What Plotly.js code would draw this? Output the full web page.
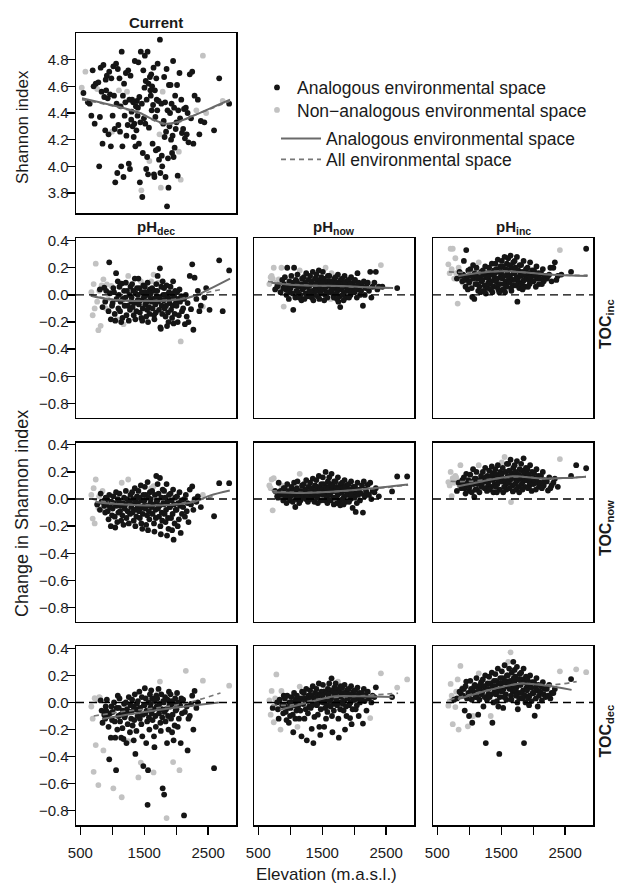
<!DOCTYPE html>
<html><head><meta charset="utf-8">
<script src="https://cdn.plot.ly/plotly-3.0.1.min.js"></script>
<style>html,body{margin:0;padding:0;background:#fff}</style>
</head><body>
<div id="chart" style="width:617px;height:885px"></div>
<script>
// ---------- DATA ----------
// site elevations (m a.s.l.), grouped in 100 m bands
const elevation = [
548,522,579,
618,646,672,693,
741,708,782,724,795,763,
861,818,897,833,874,806,889,847,
952,915,985,904,964,928,996,941,977,
1059,1016,1086,1027,1067,1005,1095,1038,1078,1046,
1147,1112,1184,1103,1166,1130,1193,1121,1158,1139,1175,
1249,1212,1285,1230,1267,1204,1296,1241,1276,1221,1258,
1352,1310,1386,1327,1369,1302,1395,1344,1318,1377,1335,1361,
1446,1408,1485,1423,1462,1401,1494,1439,1416,1477,1431,1454,1469,
1552,1509,1588,1523,1566,1503,1596,1537,1516,1573,1545,1580,1530,1559,
1645,1609,1688,1623,1666,1602,1695,1638,1616,1674,1630,1681,1652,1659,
1745,1709,1788,1723,1767,1703,1796,1738,1716,1774,1731,1781,1752,1759,
1849,1811,1886,1826,1864,1804,1894,1841,1818,1871,1833,1879,1856,
1951,1911,1983,1927,1967,1903,1992,1943,1919,1975,1935,1959,
2051,2013,2079,2032,2060,2004,2090,2041,2023,2070,
2150,2122,2178,2108,2164,2136,2192,
2250,2212,2287,2231,2268,
2338,2315,2385,2362,
2417,2440,2468,
2592,2521,
2672,2608,
2727,2765,
2828,2851];

// Current Shannon index
const shannonCurrent = [
4.55,4.59,4.71,
4.48,4.47,4.38,4.72,
4.62,4.60,4.63,4.32,4.00,4.58,
4.76,4.74,4.65,4.56,4.52,4.37,4.27,4.17,
4.71,4.68,4.66,4.57,4.54,4.51,4.26,4.24,4.15,
4.77,4.75,4.73,4.53,4.47,4.38,4.31,4.28,3.95,3.88,
4.86,4.66,4.62,4.57,4.53,4.45,4.38,4.26,4.15,4.00,3.92,
4.72,4.70,4.68,4.56,4.50,4.48,4.35,4.31,3.98,4.23,4.02,
4.79,4.50,4.49,4.48,4.45,4.41,4.38,4.32,4.30,4.27,4.22,4.15,
4.86,4.78,4.72,4.52,4.47,4.44,4.36,4.33,4.17,4.10,3.88,3.82,3.77,
4.86,4.83,4.67,4.64,4.62,4.59,4.57,4.50,4.32,4.29,4.07,4.04,3.98,3.94,
4.74,4.69,4.66,4.60,4.57,4.53,4.50,4.46,4.42,4.37,4.17,4.12,3.94,3.92,
4.95,4.77,4.56,4.49,4.47,4.42,4.32,4.24,4.13,4.08,4.05,4.00,3.95,3.84,
4.73,4.67,4.61,4.48,4.42,4.34,4.30,4.26,4.22,4.06,3.92,3.84,3.70,
4.79,4.61,4.53,4.47,4.44,4.40,4.28,4.23,4.20,4.14,4.10,4.07,
4.70,4.61,4.50,4.42,4.36,4.33,4.25,4.11,3.93,3.90,
4.44,4.43,4.40,4.28,4.24,4.21,4.18,
4.71,4.69,4.53,4.36,4.17,
4.50,4.42,4.34,4.24,
4.83,4.33,4.40,
4.27,null,
4.66,null,
4.49,null,
4.47,null];

// Change in Shannon index: pH_dec / TOC_inc
const change_pHdec_TOCinc = [
null,null,null,
null,null,0.02,-0.15,
0.23,0.08,-0.26,-0.10,0.03,-0.05,
0.115,-0.228,-0.098,0.07,0.054,0.04,-0.05,-0.09,
0.24,0.078,0.066,0.03,0.012,-0.03,-0.08,-0.12,-0.18,
0.16,0.05,0.1,0.02,-0.03,-0.06,-0.10,-0.14,-0.18,-0.19,
0.083,0.06,0.03,0.0,-0.03,-0.05,-0.08,-0.12,-0.17,-0.2,-0.216,
0.14,0.09,0.06,0.03,0.0,-0.02,-0.05,-0.08,-0.11,-0.15,-0.19,
0.12,0.08,0.05,0.03,0.01,-0.02,-0.04,-0.06,-0.09,-0.12,-0.15,-0.18,
0.10,0.12,0.07,0.05,0.02,0.0,-0.02,-0.04,-0.07,-0.1,-0.13,-0.17,-0.19,
0.09,0.06,0.04,0.02,0.0,-0.01,-0.03,-0.05,-0.07,-0.09,-0.11,-0.14,-0.16,-0.2,
0.15,0.10,0.08,0.05,0.03,0.01,-0.01,-0.03,-0.05,-0.07,-0.1,-0.13,-0.15,-0.18,
0.196,0.14,0.10,0.09,0.06,0.03,0.0,-0.02,-0.05,-0.08,-0.11,-0.14,-0.24,-0.25,
0.07,0.05,0.02,0.0,-0.02,-0.04,-0.06,-0.08,-0.10,-0.13,-0.16,-0.2,-0.23,
0.1,0.06,0.03,0.01,-0.01,-0.03,-0.06,-0.08,-0.11,-0.14,-0.17,-0.21,
0.04,0.02,-0.01,-0.03,-0.05,-0.08,-0.12,-0.15,-0.2,-0.343,
0.0,-0.03,-0.06,-0.1,-0.16,-0.216,-0.2,
0.225,0.14,0.127,-0.105,-0.257,
0.03,-0.03,-0.08,-0.12,
-0.086,-0.02,0.05,
null,-0.11,
0.255,null,
-0.12,null,
0.18,null];

// pH_now / TOC_inc
const change_pHnow_TOCinc = [
null,null,null,
null,null,0.08,0.13,
0.2,0.14,0.09,0.12,0.06,0.04,
0.2,0.115,-0.086,0.09,0.11,0.07,0.05,0.02,
0.2,0.13,0.10,0.08,0.06,0.04,0.02,0.0,-0.03,
0.2,0.14,0.11,0.09,0.07,0.05,0.03,0.01,-0.02,-0.11,
0.18,0.15,0.12,0.1,0.08,0.06,0.04,0.02,0.0,-0.02,-0.04,
0.16,0.13,0.11,0.09,0.07,0.05,0.03,0.01,-0.01,-0.03,0.06,
0.17,0.14,0.12,0.1,0.08,0.07,0.05,0.03,0.02,0.0,-0.02,-0.04,
0.18,0.15,0.13,0.11,0.09,0.08,0.06,0.04,0.03,0.01,-0.01,-0.03,0.05,
0.2,0.17,0.14,0.12,0.1,0.09,0.07,0.05,0.04,0.02,0.0,-0.02,-0.04,0.06,
0.16,0.14,0.12,0.1,0.08,0.07,0.05,0.03,0.02,0.0,-0.03,-0.02,0.04,0.09,
0.15,0.13,0.11,0.09,0.08,0.06,0.04,0.03,0.01,-0.01,-0.03,-0.09,-0.05,0.05,
0.14,0.12,0.1,0.08,0.06,0.05,0.03,0.02,0.0,-0.02,-0.04,0.07,0.09,
0.13,0.11,0.09,0.07,0.06,0.04,0.02,0.0,-0.02,0.05,0.08,0.03,
0.16,0.11,0.08,0.06,0.04,0.02,0.0,-0.02,0.05,0.09,
0.1,0.07,0.05,0.03,0.0,-0.08,0.06,
0.17,0.09,0.06,0.03,-0.02,
0.17,0.09,0.06,0.04,
0.22,0.06,null,
null,null,
0.05,null,
null,null,
null,null];

// pH_inc / TOC_inc
const change_pHinc_TOCinc = [
null,null,null,
null,null,0.225,0.16,
0.34,0.34,0.27,0.19,0.16,0.12,
0.16,-0.064,0.09,0.2,0.14,0.12,0.1,0.17,
0.33,0.25,0.18,0.15,0.13,0.11,0.09,0.06,0.04,
0.22,0.19,0.16,0.14,0.12,0.1,0.08,0.05,-0.03,-0.015,
0.24,0.2,0.17,0.15,0.13,0.12,0.1,0.08,0.06,0.03,0.02,
0.21,0.18,0.16,0.15,0.13,0.11,0.09,0.07,0.05,0.03,0.01,
0.23,0.2,0.18,0.16,0.15,0.13,0.12,0.1,0.08,0.06,0.04,0.02,
0.26,0.23,0.21,0.19,0.17,0.16,0.14,0.12,0.1,0.08,0.06,0.04,0.02,
0.28,0.25,0.23,0.21,0.19,0.17,0.16,0.14,0.12,0.1,0.08,0.06,0.04,0.02,
0.29,0.27,0.24,0.22,0.2,0.18,0.16,0.14,0.13,0.11,0.09,0.07,0.05,0.03,
0.28,0.25,0.22,0.2,0.18,0.16,0.15,0.13,0.11,0.09,0.07,0.05,-0.05,0.12,
0.25,0.22,0.19,0.17,0.15,0.14,0.12,0.1,0.08,0.06,0.04,0.16,0.11,
0.24,0.2,0.18,0.16,0.14,0.12,0.1,0.08,0.06,0.15,0.11,0.13,
0.21,0.18,0.16,0.14,0.12,0.1,0.08,0.06,0.15,0.13,
0.19,0.16,0.14,0.12,0.1,0.08,0.13,
0.15,0.12,0.1,0.14,0.2,
0.24,0.2,0.14,0.11,
0.33,0.15,null,
0.17,null,
null,null,
null,null,
0.34,null];

// pH_dec / TOC_now
const change_pHdec_TOCnow = [
null,null,null,
null,null,0.03,-0.144,
0.144,0.08,-0.066,-0.18,0.02,-0.04,
-0.07,0.04,0.01,-0.02,-0.05,-0.08,-0.1,0.06,
0.03,0.0,-0.02,-0.04,-0.06,-0.09,-0.12,-0.15,-0.2,
0.05,0.02,0.0,-0.03,-0.05,-0.07,-0.1,-0.13,-0.17,-0.21,
0.12,0.04,0.01,-0.01,-0.03,-0.05,-0.07,-0.09,-0.12,-0.16,-0.19,
0.144,0.06,0.03,0.0,-0.02,-0.04,-0.06,-0.09,-0.11,-0.14,-0.18,
0.08,0.05,0.02,0.0,-0.02,-0.04,-0.06,-0.08,-0.1,-0.13,-0.16,-0.2,
0.1,0.06,0.03,0.01,-0.01,-0.03,-0.05,-0.07,-0.09,-0.11,-0.14,-0.18,-0.22,
0.125,0.09,0.05,0.03,0.01,-0.01,-0.03,-0.05,-0.07,-0.09,-0.12,-0.15,-0.19,-0.23,
0.095,0.08,0.17,0.06,0.03,0.0,-0.02,-0.04,-0.06,-0.08,-0.11,-0.14,-0.18,-0.24,
0.155,0.11,0.07,0.04,0.01,-0.01,-0.03,-0.05,-0.07,-0.1,-0.13,-0.16,-0.2,-0.26,
0.11,0.06,0.03,0.01,-0.02,-0.04,-0.06,-0.08,-0.11,-0.14,-0.17,-0.22,-0.27,
0.07,0.04,0.01,-0.01,-0.04,-0.06,-0.08,-0.11,-0.14,-0.18,-0.23,-0.3,
0.05,0.02,-0.01,-0.03,-0.05,-0.08,-0.11,-0.15,-0.2,-0.25,
0.03,0.0,-0.03,-0.06,-0.09,-0.13,-0.17,
0.093,0.07,0.0,-0.04,-0.08,
0.02,-0.02,-0.06,null,
0.03,null,null,
-0.127,null,
0.117,null,
null,null,
0.117,null];

// pH_now / TOC_now
const change_pHnow_TOCnow = [
null,null,null,
null,null,0.1,0.08,
0.154,0.144,0.046,-0.083,0.02,0.06,
0.1,0.12,0.08,0.05,0.03,0.01,-0.01,0.06,
0.11,0.08,0.06,0.04,0.03,0.01,-0.01,-0.03,0.05,
0.12,0.09,0.07,0.05,0.03,0.02,0.0,-0.02,-0.059,0.06,
0.186,0.13,0.1,0.08,0.06,0.04,0.02,0.01,-0.01,-0.03,0.05,
0.14,0.11,0.09,0.07,0.05,0.04,0.02,0.0,-0.02,0.06,0.03,
0.15,0.12,0.1,0.08,0.06,0.05,0.03,0.02,0.0,-0.02,0.07,0.04,
0.17,0.14,0.11,0.09,0.07,0.06,0.04,0.03,0.01,-0.01,-0.03,0.05,0.08,
0.2,0.16,0.13,0.11,0.09,0.07,0.06,0.04,0.03,0.01,-0.01,-0.03,0.05,0.08,
0.186,0.16,0.13,0.11,0.09,0.08,0.06,0.05,0.03,0.01,-0.01,-0.04,0.07,0.1,
0.16,0.13,0.11,0.09,0.08,0.06,0.05,0.03,0.01,-0.01,-0.03,-0.046,0.07,0.04,
0.14,0.12,0.1,0.08,0.06,0.05,0.03,0.02,0.0,-0.02,-0.04,0.07,0.09,
0.13,0.11,0.09,0.07,0.05,0.04,0.02,0.0,-0.02,-0.066,0.06,0.03,
0.12,0.09,0.07,0.05,0.03,0.01,-0.01,-0.03,-0.095,0.06,
0.13,0.1,0.07,0.04,0.02,-0.1,0.05,
0.12,0.105,0.06,0.03,0.0,
0.08,0.05,0.02,null,
null,null,null,
0.056,null,
0.166,null,
null,null,
0.166,null];

// pH_inc / TOC_now
const change_pHinc_TOCnow = [
null,null,null,
null,null,0.125,0.1,
0.154,0.2,0.17,0.022,0.16,0.12,
0.25,0.13,0.1,0.12,0.08,0.06,0.14,0.1,
0.186,0.16,0.14,0.12,0.1,0.08,0.06,0.04,0.11,
0.22,0.18,0.15,0.13,0.11,0.09,0.07,0.05,0.015,0.12,
0.25,0.2,0.17,0.15,0.13,0.11,0.09,0.07,0.05,0.12,0.14,
0.23,0.2,0.17,0.15,0.13,0.12,0.1,0.08,0.06,0.14,0.16,
0.24,0.21,0.18,0.16,0.14,0.13,0.11,0.09,0.07,0.05,0.15,0.19,
0.25,0.22,0.2,0.18,0.16,0.15,0.13,0.11,0.09,0.07,0.05,0.14,0.17,
0.31,0.27,0.26,0.23,0.2,0.18,0.16,0.15,0.13,0.11,0.09,0.07,0.05,0.14,
0.29,0.26,0.23,0.21,0.19,0.17,0.16,0.14,0.12,0.1,0.08,0.056,-0.022,0.15,
0.28,0.25,0.22,0.2,0.18,0.17,0.15,0.13,0.11,0.09,0.07,0.05,0.14,0.16,
0.3,0.26,0.23,0.21,0.19,0.17,0.15,0.13,0.11,0.09,0.07,0.14,0.16,
0.25,0.22,0.2,0.18,0.16,0.14,0.12,0.1,0.08,0.06,0.13,0.15,
0.22,0.19,0.17,0.15,0.13,0.11,0.09,0.07,0.14,0.12,
0.2,0.17,0.14,0.12,0.1,0.08,0.13,
0.16,0.13,0.1,0.063,0.08,
0.15,0.12,0.09,null,
0.295,null,null,
0.17,null,
0.25,null,
null,null,
0.227,null];

// pH_dec / TOC_dec
const change_pHdec_TOCdec = [
null,null,null,
null,null,-0.03,-0.12,
-0.315,-0.512,-0.61,0.032,0.039,0.02,
-0.354,0.015,-0.03,-0.06,-0.09,0.035,-0.12,-0.15,
-0.42,0.02,-0.03,-0.06,-0.08,-0.1,-0.13,-0.18,-0.26,
-0.5,-0.634,0.05,0.0,-0.04,-0.07,-0.1,-0.14,-0.2,-0.26,
-0.7,0.03,-0.01,-0.04,-0.06,-0.09,-0.11,-0.14,-0.19,-0.26,-0.27,
-0.285,0.0,-0.02,-0.05,-0.07,-0.09,-0.12,-0.16,-0.22,-0.3,0.04,
0.06,0.02,-0.01,-0.03,-0.05,-0.07,-0.1,-0.13,-0.17,-0.21,-0.28,-0.38,
-0.444,-0.554,-0.47,0.08,0.04,0.01,-0.02,-0.04,-0.06,-0.09,-0.12,-0.16,-0.25,
-0.756,0.105,0.06,0.03,0.0,-0.02,-0.04,-0.06,-0.08,-0.11,-0.14,-0.2,-0.3,-0.5,
-0.517,0.09,0.05,0.03,0.01,-0.01,-0.03,-0.05,-0.08,-0.1,-0.13,-0.18,-0.25,-0.33,
0.154,0.068,-0.634,0.1,0.06,0.03,0.01,-0.01,-0.03,-0.05,-0.08,-0.11,-0.15,-0.21,
-0.854,-0.68,0.08,0.04,0.02,0.0,-0.02,-0.05,-0.07,-0.1,-0.14,-0.2,-0.3,
-0.44,0.06,0.03,0.01,-0.01,-0.03,-0.06,-0.09,-0.12,-0.17,-0.22,-0.28,
-0.5,0.07,0.03,0.0,-0.02,-0.05,-0.08,-0.12,-0.18,-0.3,
0.234,-0.834,-0.354,0.02,-0.03,-0.07,-0.12,
0.05,-0.1,0.085,-0.01,-0.2,
0.0,-0.04,null,null,
0.161,null,null,
-0.485,null,
null,null,
null,null,
0.124,null];

// pH_now / TOC_dec
const change_pHnow_TOCdec = [
null,null,null,
null,null,0.015,-0.09,
-0.146,0.085,0.207,-0.04,0.0,0.03,
0.085,-0.12,0.05,0.02,-0.02,-0.05,-0.08,-0.2,
0.05,0.03,0.0,-0.02,-0.04,-0.07,-0.1,-0.13,-0.15,
0.07,0.04,0.02,0.0,-0.02,-0.04,-0.06,-0.09,-0.12,-0.22,
0.117,-0.18,0.08,0.05,0.03,0.01,-0.01,-0.03,-0.06,-0.12,-0.25,
0.1,0.07,0.05,0.03,0.01,-0.01,-0.03,-0.05,-0.08,-0.12,-0.28,
0.12,0.09,0.07,0.05,0.03,0.02,0.0,-0.02,-0.04,-0.107,-0.195,-0.3,
0.14,0.1,0.08,0.06,0.05,0.03,0.02,0.0,-0.02,-0.05,-0.09,-0.18,-0.24,
0.117,0.13,0.1,0.08,0.07,0.05,0.04,0.02,0.0,-0.02,-0.04,-0.07,-0.18,-0.12,
0.178,0.14,0.11,0.09,0.08,0.06,0.05,0.03,0.01,-0.01,-0.03,-0.06,-0.1,-0.22,
0.154,0.14,0.12,0.1,0.08,0.07,0.05,0.04,0.02,0.0,-0.02,-0.05,-0.12,-0.26,
0.13,0.11,0.09,0.07,0.06,0.04,0.03,0.01,-0.01,-0.03,-0.06,-0.1,-0.2,
0.12,0.1,0.08,0.06,0.05,0.03,0.02,0.0,-0.02,-0.05,-0.115,-0.16,
0.11,0.09,0.07,0.05,0.03,0.02,0.0,-0.02,-0.05,-0.1,
0.1,0.07,0.05,0.03,0.01,-0.156,-0.06,
-0.115,0.08,0.05,0.03,0.0,
0.112,0.04,null,null,
0.215,null,null,
0.04,null,
0.11,null,
null,null,
0.17,null];

// pH_inc / TOC_dec
const change_pHinc_TOCdec = [
null,null,null,
null,null,-0.024,0.007,
-0.16,0.137,-0.034,0.05,0.08,0.02,
0.27,0.17,0.11,-0.2,0.06,0.03,0.1,0.08,
0.154,0.1,0.07,0.05,0.03,-0.06,-0.1,0.12,-0.176,
-0.1,0.16,0.13,0.1,0.08,0.06,0.04,0.02,0.12,-0.15,
0.215,0.18,0.15,0.12,0.1,0.08,0.06,0.04,0.02,-0.09,0.13,
0.2,0.17,0.14,0.12,0.1,0.08,0.06,0.04,0.02,-0.03,-0.3,
0.22,0.19,0.16,0.14,0.12,0.1,0.08,0.06,0.04,0.0,-0.1,-0.15,
0.25,0.21,0.18,0.16,0.14,0.12,0.1,0.08,0.06,0.04,0.01,-0.03,-0.38,
0.275,0.23,0.2,0.18,0.16,0.14,0.12,0.1,0.08,0.06,0.04,0.02,-0.04,0.15,
0.37,0.3,0.3,0.25,0.22,0.2,0.18,0.16,0.14,0.12,0.1,0.08,0.05,0.02,
0.263,0.24,0.21,0.19,0.17,0.15,0.13,0.11,0.09,0.07,0.05,0.03,0.0,-0.05,
0.25,0.22,0.19,0.17,0.15,0.13,0.11,0.09,0.07,0.05,0.03,0.0,-0.3,
0.2,0.17,0.15,0.13,0.11,0.09,0.07,0.05,0.03,0.01,-0.02,0.14,
0.18,0.15,0.13,0.11,0.09,0.07,0.05,0.03,-0.098,-0.03,
0.15,0.12,0.1,0.08,0.06,0.015,0.04,
0.13,0.1,0.07,0.05,0.03,
0.1,0.07,null,null,
0.23,null,null,
0.173,null,
0.245,null,
null,null,
0.224,null];

// sites outside the analogous environmental space (indices into elevation)
const nonAnalog_current = [1,2,12,27,43,54,85,98,117,122,128,161,163,177,180,182,187];
const nonAnalog_pHdec_TOCinc = [5,6,7,8,9,10,11,12,13,14,15,16,22,23,26,38,50,51,74,101,102,118,163,180];
const nonAnalog_pHnow_TOCinc = [5,6,7,8,9,10,13,14,15,16,40,87,101,111,180];
const nonAnalog_pHinc_TOCinc = [5,6,7,8,9,10,11,12,13,14,15,16,40,180];
const nonAnalog_pHdec_TOCnow = [5,6,7,8,9,10,11,13,20,40,51,101,102,180];
const nonAnalog_pHnow_TOCnow = [5,6,7,8,9,10,13,40];
const nonAnalog_pHinc_TOCnow = [5,6,7,8,9,10,11,12,13,14,20,40,87,88,113,180];
const nonAnalog_pHdec_TOCdec = [5,6,7,8,9,10,11,12,13,18,31,40,51,74,75,101,115,116,129,142,154,164,180,189];
const nonAnalog_pHnow_TOCdec = [5,6,7,8,9,12,13,20,40,41,87,115,171,180,185,189];
const nonAnalog_pHinc_TOCdec = [5,6,7,8,9,10,11,13,14,15,16,29,30,40,72,101,102,180,185,189];

// smoothed fits (analogous space / all space)
const fitCurrent_aX = [526,800,1068,1434,1642,1825,2007,2268,2581,2842];
const fitCurrent_aY = [4.51,4.48,4.45,4.40,4.35,4.32,4.33,4.38,4.445,4.50];
const fitCurrent_allX = [526,800,1068,1434,1642,1825,2007,2268,2581,2842];
const fitCurrent_allY = [4.50,4.475,4.445,4.395,4.345,4.315,4.325,4.38,4.44,4.49];

const fit_pHdec_TOCinc_aX = [662,900,1200,1500,1800,2100,2300,2550,2842];
const fit_pHdec_TOCinc_aY = [-0.007,-0.03,-0.043,-0.045,-0.043,-0.03,-0.005,0.05,0.12];
const fit_pHdec_TOCinc_allX = [662,900,1200,1500,1800,2100,2300,2550,2710];
const fit_pHdec_TOCinc_allY = [0.0,-0.025,-0.04,-0.043,-0.04,-0.025,-0.005,0.025,0.04];

const fit_pHnow_TOCinc_aX = [706,1000,1400,1800,2200,2608];
const fit_pHnow_TOCinc_aY = [0.09,0.075,0.068,0.065,0.057,0.05];
const fit_pHnow_TOCinc_allX = [650,1000,1400,1800,2200,2608];
const fit_pHnow_TOCinc_allY = [0.1,0.078,0.068,0.063,0.056,0.05];

const fit_pHinc_TOCinc_aX = [830,1100,1500,1900,2300,2600,2850];
const fit_pHinc_TOCinc_aY = [0.14,0.16,0.175,0.165,0.148,0.142,0.14];
const fit_pHinc_TOCinc_allX = [680,1000,1500,2000,2500,2850];
const fit_pHinc_TOCinc_allY = [0.17,0.165,0.175,0.16,0.145,0.145];

const fit_pHdec_TOCnow_aX = [735,1000,1400,1800,2100,2300,2535,2838];
const fit_pHdec_TOCnow_aY = [-0.022,-0.035,-0.045,-0.046,-0.035,-0.018,0.027,0.063];
const fit_pHdec_TOCnow_allX = [683,1000,1400,1800,2100,2300,2600];
const fit_pHdec_TOCnow_allY = [0.0,-0.03,-0.043,-0.045,-0.03,-0.01,0.02];

const fit_pHnow_TOCnow_aX = [732,1200,1700,2200,2842];
const fit_pHnow_TOCnow_aY = [0.05,0.045,0.055,0.075,0.107];
const fit_pHnow_TOCnow_allX = [706,1000,1500,2000,2500,2842];
const fit_pHnow_TOCnow_allY = [0.063,0.05,0.05,0.065,0.085,0.105];

const fit_pHinc_TOCnow_aX = [812,1200,1675,2145,2500,2825];
const fit_pHinc_TOCnow_aY = [0.093,0.13,0.168,0.15,0.155,0.165];
const fit_pHinc_TOCnow_allX = [707,1000,1400,1800,2200,2825];
const fit_pHinc_TOCnow_allY = [0.13,0.13,0.15,0.165,0.15,0.165];

const fit_pHdec_TOCdec_aX = [839,1300,1800,2300,2666];
const fit_pHdec_TOCdec_aY = [-0.122,-0.085,-0.05,-0.02,0.0];
const fit_pHdec_TOCdec_allX = [709,1200,1700,2200,2692];
const fit_pHdec_TOCdec_allY = [-0.1,-0.065,-0.04,0.0,0.07];

const fit_pHnow_TOCdec_aX = [836,1200,1670,2100,2608];
const fit_pHnow_TOCdec_aY = [-0.054,-0.01,0.044,0.045,0.04];
const fit_pHnow_TOCdec_allX = [706,1000,1500,2000,2686];
const fit_pHnow_TOCdec_allY = [-0.02,-0.02,0.03,0.045,0.068];

const fit_pHinc_TOCdec_aX = [822,1300,1816,2200,2600];
const fit_pHinc_TOCdec_aY = [0.024,0.09,0.14,0.125,0.093];
const fit_pHinc_TOCdec_allX = [690,1200,1800,2300,2680];
const fit_pHinc_TOCdec_allY = [0.02,0.08,0.14,0.13,0.154];

// tick labels
const elevTickVals = [500,1500,2500];
const elevTickText = ['500','1500','2500'];
const elevMinorTickVals = [1000,2000];
const currentTickVals = [3.8,4.0,4.2,4.4,4.6,4.8];
const currentTickText = ['3.8','4.0','4.2','4.4','4.6','4.8'];
const changeTickVals = [-0.8,-0.6,-0.4,-0.2,0.0,0.2,0.4];
const changeTickText = ['\u22120.8','\u22120.6','\u22120.4','\u22120.2','0.0','0.2','0.4'];
const colTitles = ['pH<sub>dec</sub>','pH<sub>now</sub>','pH<sub>inc</sub>'];
const rowTitles = ['TOC<sub>inc</sub>','TOC<sub>now</sub>','TOC<sub>dec</sub>'];

// ---------- LAYOUT / DRAW ----------
const W = 617, H = 885;
const FONT = 'Liberation Sans, Arial, Helvetica, sans-serif';
const px2x = p => p / W, px2y = p => 1 - p / H;
const colPx = [[76,236],[254,414],[433,593]];
const rowPx = [[238.3,417.7],[442.5,621.7],[646,825]];
const curPx = [33,213];

const panels = [
  {v: shannonCurrent, n: nonAnalog_current, a:[fitCurrent_aX,fitCurrent_aY], all:[fitCurrent_allX,fitCurrent_allY], r:-1, c:0},
  {v: change_pHdec_TOCinc, n: nonAnalog_pHdec_TOCinc, a:[fit_pHdec_TOCinc_aX,fit_pHdec_TOCinc_aY], all:[fit_pHdec_TOCinc_allX,fit_pHdec_TOCinc_allY], r:0, c:0},
  {v: change_pHnow_TOCinc, n: nonAnalog_pHnow_TOCinc, a:[fit_pHnow_TOCinc_aX,fit_pHnow_TOCinc_aY], all:[fit_pHnow_TOCinc_allX,fit_pHnow_TOCinc_allY], r:0, c:1},
  {v: change_pHinc_TOCinc, n: nonAnalog_pHinc_TOCinc, a:[fit_pHinc_TOCinc_aX,fit_pHinc_TOCinc_aY], all:[fit_pHinc_TOCinc_allX,fit_pHinc_TOCinc_allY], r:0, c:2},
  {v: change_pHdec_TOCnow, n: nonAnalog_pHdec_TOCnow, a:[fit_pHdec_TOCnow_aX,fit_pHdec_TOCnow_aY], all:[fit_pHdec_TOCnow_allX,fit_pHdec_TOCnow_allY], r:1, c:0},
  {v: change_pHnow_TOCnow, n: nonAnalog_pHnow_TOCnow, a:[fit_pHnow_TOCnow_aX,fit_pHnow_TOCnow_aY], all:[fit_pHnow_TOCnow_allX,fit_pHnow_TOCnow_allY], r:1, c:1},
  {v: change_pHinc_TOCnow, n: nonAnalog_pHinc_TOCnow, a:[fit_pHinc_TOCnow_aX,fit_pHinc_TOCnow_aY], all:[fit_pHinc_TOCnow_allX,fit_pHinc_TOCnow_allY], r:1, c:2},
  {v: change_pHdec_TOCdec, n: nonAnalog_pHdec_TOCdec, a:[fit_pHdec_TOCdec_aX,fit_pHdec_TOCdec_aY], all:[fit_pHdec_TOCdec_allX,fit_pHdec_TOCdec_allY], r:2, c:0},
  {v: change_pHnow_TOCdec, n: nonAnalog_pHnow_TOCdec, a:[fit_pHnow_TOCdec_aX,fit_pHnow_TOCdec_aY], all:[fit_pHnow_TOCdec_allX,fit_pHnow_TOCdec_allY], r:2, c:1},
  {v: change_pHinc_TOCdec, n: nonAnalog_pHinc_TOCdec, a:[fit_pHinc_TOCdec_aX,fit_pHinc_TOCdec_aY], all:[fit_pHinc_TOCdec_allX,fit_pHinc_TOCdec_allY], r:2, c:2}
];

function legendAt(xp, yp, iw) {
  return {x: px2x(xp), xanchor:'left', y: px2y(yp), yanchor:'middle', bgcolor:'rgba(0,0,0,0)',
          font:{size:17.5, family:FONT, color:'#1a1a1a'}, itemwidth: iw, tracegroupgap:0};
}
const traces = [], layout = {
  width: W, height: H, margin: {l:0,r:0,t:0,b:0},
  paper_bgcolor: '#fff', plot_bgcolor: '#fff',
  font: {family: FONT, color: '#1a1a1a'},
  showlegend: true,
  legend: legendAt(257, 87.5, 30),
  legend2: legendAt(257, 110, 30),
  legend3: legendAt(276, 138.5, 40),
  legend4: legendAt(276, 159.5, 40),
  shapes: [], annotations: []
};

const axBase = {showline:true, mirror:true, linecolor:'#000', linewidth:1.5, showgrid:false,
  zeroline:false, ticklen:8, tickwidth:1.4, tickcolor:'#000', fixedrange:true,
  tickfont:{size:15, family:FONT, color:'#1a1a1a'}};

panels.forEach((p, i) => {
  const k = i === 0 ? '' : String(i + 1);
  const xName = 'x' + k, yName = 'y' + k;
  const xdom = colPx[p.c].map(px2x);
  const ypx = p.r < 0 ? curPx : rowPx[p.r];
  const ydom = [px2y(ypx[1]), px2y(ypx[0])];
  const bottom = p.r === 2, left = p.c === 0;
  layout['xaxis' + k] = Object.assign({}, axBase, {domain: xdom, anchor: yName, range:[432,2935],
    tickmode:'array', tickvals: elevTickVals, ticktext: elevTickText,
    ticks: bottom ? 'outside' : '', showticklabels: bottom, ticklabelstandoff: 5,
    minor: {tickmode:'array', tickvals: elevMinorTickVals, ticks: bottom ? 'outside' : '', ticklen:8, tickwidth:1.4, tickcolor:'#000', showgrid:false}});
  layout['yaxis' + k] = Object.assign({}, axBase, {domain: ydom, anchor: xName,
    range: p.r < 0 ? [3.65, 5.0] : [-0.905, 0.417],
    tickmode:'array',
    tickvals: p.r < 0 ? currentTickVals : changeTickVals,
    ticktext: p.r < 0 ? currentTickText : changeTickText,
    ticks: left ? 'outside' : '', showticklabels: left, ticklabelstandoff: -5});

  const nonSet = new Set(p.n);
  const ax = [], ay = [], nx = [], ny = [];
  p.v.forEach((val, j) => {
    if (val === null) return;
    if (nonSet.has(j)) { nx.push(elevation[j]); ny.push(val); }
    else { ax.push(elevation[j]); ay.push(val); }
  });
  const first = i === 0;
  traces.push({type:'scatter', mode:'markers', x:nx, y:ny, xaxis:xName, yaxis:yName,
    marker:{color:'#c2c2c2', size:5.8, line:{width:0}}, name:'Non\u2212analogous environmental space',
    showlegend: first, legend:'legend2', hoverinfo:'skip'});
  traces.push({type:'scatter', mode:'markers', x:ax, y:ay, xaxis:xName, yaxis:yName,
    marker:{color:'#151515', size:5.8, line:{width:0}}, name:'Analogous environmental space',
    showlegend: first, legend:'legend', hoverinfo:'skip'});
  traces.push({type:'scatter', mode:'lines', x:p.all[0], y:p.all[1], xaxis:xName, yaxis:yName,
    line:{color:'#777', width:1.7, dash:'5px,4px', shape:'spline', smoothing:0.8},
    name:'All environmental space', showlegend: first, legend:'legend4', hoverinfo:'skip'});
  traces.push({type:'scatter', mode:'lines', x:p.a[0], y:p.a[1], xaxis:xName, yaxis:yName,
    line:{color:'#6a6a6a', width:2, shape:'spline', smoothing:0.8},
    name:'Analogous environmental space', showlegend: first, legend:'legend3', hoverinfo:'skip'});
  if (p.r >= 0) {
    layout.shapes.push({type:'line', xref: xName + ' domain', yref: yName, x0:0, x1:1, y0:0, y1:0,
      line:{color:'#000', width:1.4, dash:'8px,5px'}, layer:'above'});
  }
});

// titles
function ann(text, xp, yp, size, angle) {
  layout.annotations.push({text, x:px2x(xp), y:px2y(yp), xref:'paper', yref:'paper',
    showarrow:false, xanchor:'center', yanchor:'middle', textangle: angle || 0,
    font:{size, family:FONT, color:'#1a1a1a'}});
}
ann('<b>Current</b>', 156, 22, 15);
colTitles.forEach((t, c) => ann('<b>' + t + '</b>', (colPx[c][0] + colPx[c][1]) / 2, 227, 15));
rowTitles.forEach((t, r) => ann('<b>' + t + '</b>', 606, (rowPx[r][0] + rowPx[r][1]) / 2 - 4, 16, -90));
ann('Shannon index', 22, 127, 17, -90);
ann('Change in Shannon index', 22, 514, 18, -90);
ann('Elevation (m.a.s.l.)', 326, 874, 17, 0);

Plotly.newPlot('chart', traces, layout, {displayModeBar:false, staticPlot:true});
</script>
</body></html>
